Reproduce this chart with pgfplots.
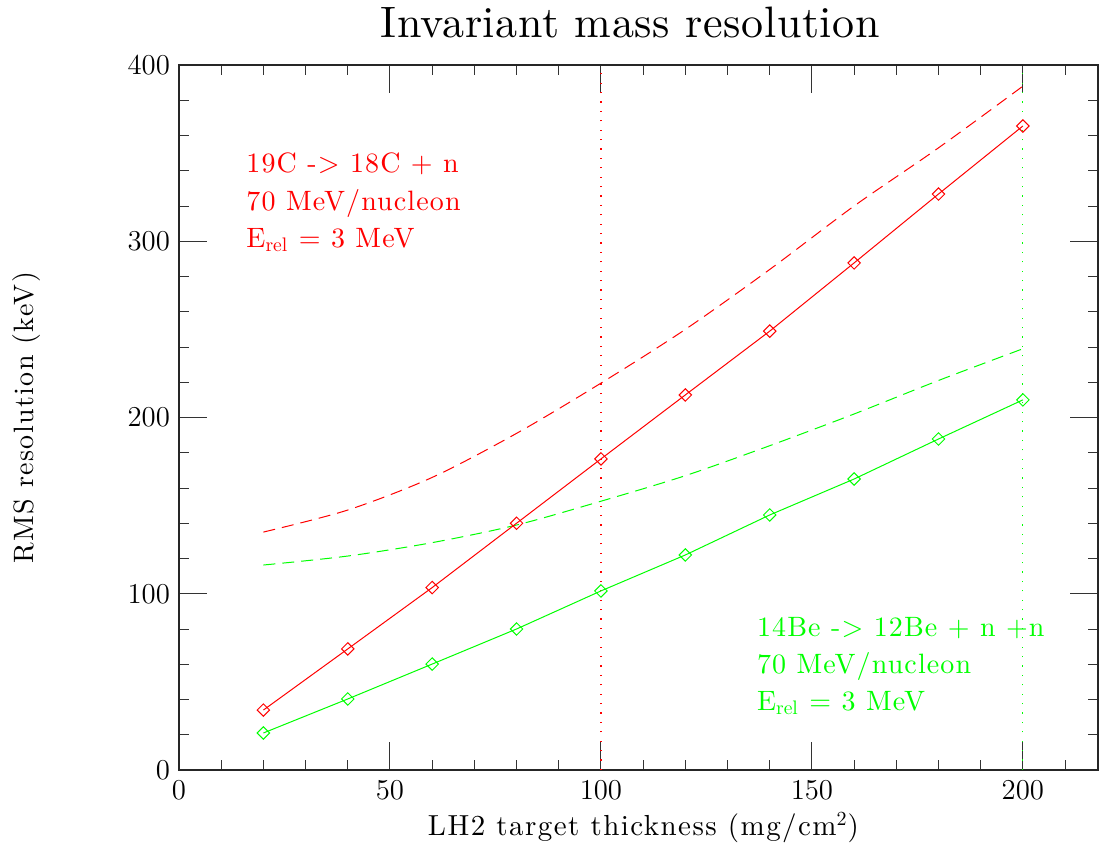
\documentclass[border=0pt]{standalone}
\usepackage{fontspec}
\setmainfont{lmroman10-regular.otf}[BoldFont=lmroman10-bold.otf,
  ItalicFont=lmroman10-italic.otf]
\usepackage{pgfplots}
\pgfplotsset{compat=1.18}

\definecolor{pgred}{RGB}{255,0,0}
\definecolor{pggreen}{RGB}{0,255,0}

% size, letter spacing
\newcommand{\spaced}[2]{\fontsize{#1}{#1}\selectfont\addfontfeature{LetterSpace=#2}}

\begin{document}
\begin{tikzpicture}
\path[use as bounding box] (-89.5pt,-36pt) rectangle (460pt,385pt);
\begin{axis}[
  at={(0,0)}, anchor=south west,
  scale only axis,
  width=459.5pt, height=352.5pt,
  xmin=0, xmax=217.8, ymin=0, ymax=400,
  axis line style={line width=0.7pt, black!85},
  xtick={0,50,100,150,200},
  minor xtick={10,20,30,40,60,70,80,90,110,120,130,140,160,170,180,190,210},
  ytick={0,100,200,300,400},
  minor ytick={20,40,60,80,120,140,160,180,220,240,260,280,320,340,360,380},
  tick align=inside,
  major tick length=14pt, minor tick length=5pt,
  every tick/.style={black!80, line width=0.5pt},
  xtick pos=both, ytick pos=both,
  ticklabel pos=left,
  tick label style={font=\fontsize{14}{16}\selectfont},
  xticklabel style={yshift=-2pt},
  yticklabel style={xshift=-1pt},
  title={Invariant mass resolution},
  title style={font=\spaced{22}{1.5}, anchor=base,
    at={(axis description cs:0.491,1.0213)}},
  xlabel={LH2 target thickness (mg/cm$^{2}$)},
  xlabel style={font=\spaced{14.5}{5}, anchor=center,
    at={(axis description cs:0.5054,-0.082)}},
  ylabel={RMS resolution (keV)},
  ylabel style={font=\spaced{14}{5}, anchor=center,
    at={(axis description cs:-0.1654,0.5)}},
]

% reference thicknesses
\addplot[pgred, line width=0.6pt, dash pattern=on 0.6pt off 4.1pt]
  coordinates {(100,0) (100,400)};
\addplot[pggreen, line width=0.6pt, dash pattern=on 0.6pt off 4.1pt]
  coordinates {(200,0) (200,400)};

% 19C -> 18C + n : total resolution (dashed)
\addplot[pgred, line width=0.5pt, dash pattern=on 6pt off 3.5pt, smooth]
  coordinates {(20,135) (40,147.5) (60,166) (80,191) (100,219.5)
               (120,250) (140,284) (160,320) (180,353) (200,388)};

% 14Be -> 12Be + n + n : total resolution (dashed)
\addplot[pggreen, line width=0.5pt, dash pattern=on 6pt off 3.5pt, smooth]
  coordinates {(20,116.3) (40,121.4) (60,129) (80,139) (100,152.5)
               (120,167) (140,184) (160,202) (180,221) (200,239)};

% 19C -> 18C + n : target contribution
\addplot[pgred, line width=0.5pt, mark=square,
  mark options={rotate=45, solid, line width=0.5pt}, mark size=2.2pt]
  coordinates {(20,34) (40,68.7) (60,103.5) (80,140) (100,176.5)
               (120,212.8) (140,249) (160,287.7) (180,326.8) (200,365.4)};

% 14Be -> 12Be + n + n : target contribution
\addplot[pggreen, line width=0.5pt, mark=square,
  mark options={rotate=45, solid, line width=0.5pt}, mark size=2.2pt]
  coordinates {(20,21) (40,40.3) (60,60.1) (80,80) (100,101.6)
               (120,122) (140,144.7) (160,165.1) (180,187.8) (200,210)};

% reaction labels
\begin{scope}[every node/.style={anchor=base west, font=\spaced{14}{4}, inner sep=0pt}]
\node[text=pgred] at (axis cs:15.9,339) {19C -> 18C + n};
\node[text=pgred] at (axis cs:15.9,317.7) {70 MeV/nucleon};
\node[text=pgred] at (axis cs:15.9,296.7) {E$_{\mathrm{rel}}$ = 3 MeV};
\node[text=pggreen] at (axis cs:136.9,75.6) {14Be -> 12Be + n +n};
\node[text=pggreen] at (axis cs:136.9,54.8) {70 MeV/nucleon};
\node[text=pggreen] at (axis cs:136.9,33.7) {E$_{\mathrm{rel}}$ = 3 MeV};
\end{scope}

\end{axis}
\end{tikzpicture}
\end{document}
